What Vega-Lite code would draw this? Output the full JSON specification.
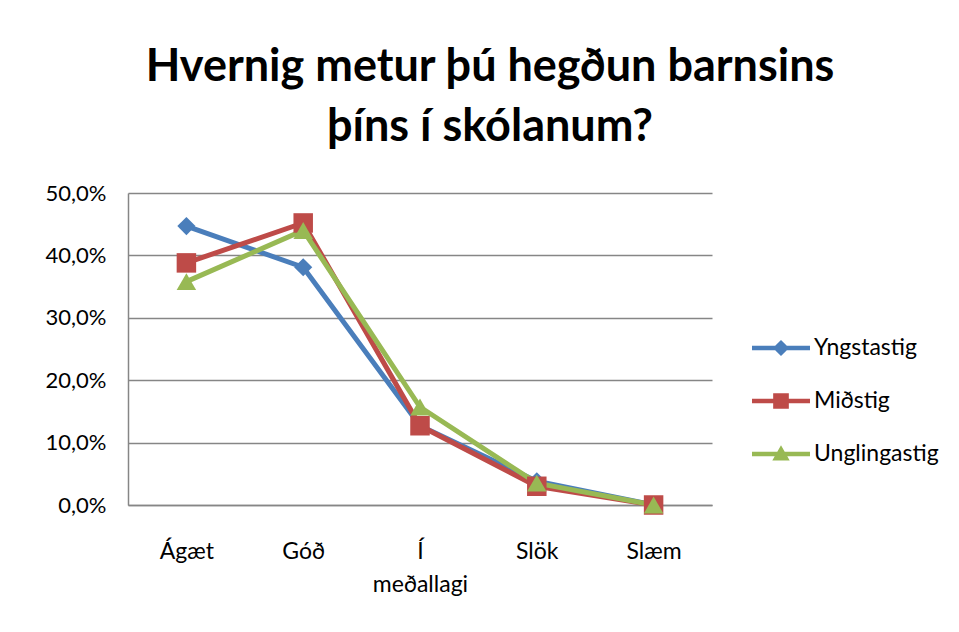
{
  "$schema": "https://vega.github.io/schema/vega-lite/v6.json",
  "width": 584,
  "height": 312,
  "autosize": {"type": "none"},
  "padding": {"left": 128, "top": 193, "right": 247, "bottom": 127},
  "background": "white",
  "title": {
    "text": ["Hvernig metur þú hegðun barnsins", "þíns í skólanum?"],
    "font": "Lato",
    "fontSize": 45,
    "fontWeight": "bold",
    "color": "#000000",
    "anchor": "middle",
    "frame": "group",
    "dx": 70,
    "lineHeight": 60,
    "offset": 32
  },
  "data": {
    "values": [
      {"category": "Ágæt", "series": "Yngstastig", "value": 0.447},
      {"category": "Góð", "series": "Yngstastig", "value": 0.381},
      {"category": "Í meðallagi", "series": "Yngstastig", "value": 0.127},
      {"category": "Slök", "series": "Yngstastig", "value": 0.038},
      {"category": "Slæm", "series": "Yngstastig", "value": 0.0},
      {"category": "Ágæt", "series": "Miðstig", "value": 0.388},
      {"category": "Góð", "series": "Miðstig", "value": 0.452},
      {"category": "Í meðallagi", "series": "Miðstig", "value": 0.127},
      {"category": "Slök", "series": "Miðstig", "value": 0.030},
      {"category": "Slæm", "series": "Miðstig", "value": 0.0},
      {"category": "Ágæt", "series": "Unglingastig", "value": 0.358},
      {"category": "Góð", "series": "Unglingastig", "value": 0.440},
      {"category": "Í meðallagi", "series": "Unglingastig", "value": 0.157},
      {"category": "Slök", "series": "Unglingastig", "value": 0.035},
      {"category": "Slæm", "series": "Unglingastig", "value": 0.0}
    ]
  },
  "encoding": {
    "x": {
      "field": "category",
      "type": "nominal",
      "sort": ["Ágæt", "Góð", "Í meðallagi", "Slök", "Slæm"],
      "scale": {"type": "point", "padding": 0.5},
      "axis": {
        "title": null,
        "labelAngle": 0,
        "ticks": false,
        "labelPadding": 35,
        "labelFont": "Lato",
        "labelFontSize": 23,
        "labelColor": "#000000",
        "labelLineHeight": 33,
        "labelBaseline": "top",
        "labelExpr": "datum.label === 'Í meðallagi' ? ['Í', 'meðallagi'] : datum.label",
        "domainColor": "#868686",
        "domainWidth": 1.5,
        "grid": false
      }
    },
    "y": {
      "field": "value",
      "type": "quantitative",
      "scale": {"domain": [0, 0.5], "nice": false},
      "axis": {
        "title": null,
        "values": [0, 0.1, 0.2, 0.3, 0.4, 0.5],
        "labelExpr": "replace(format(datum.value, '.1%'), '.', ',')",
        "ticks": false,
        "labelPadding": 22,
        "labelFont": "Lato",
        "labelFontSize": 22,
        "labelColor": "#000000",
        "domainColor": "#868686",
        "domainWidth": 1.5,
        "gridColor": "#868686",
        "gridWidth": 1.5,
        "gridOpacity": 1
      }
    },
    "color": {
      "field": "series",
      "type": "nominal",
      "sort": ["Yngstastig", "Miðstig", "Unglingastig"],
      "scale": {"domain": ["Yngstastig", "Miðstig", "Unglingastig"], "range": ["#4A7EBB", "#BE4B48", "#98B954"]},
      "legend": {
        "orient": "none",
        "legendX": 624,
        "legendY": 126,
        "title": null,
        "symbolSize": 3364,
        "symbolType": "square",
        "labelFont": "Lato",
        "labelFontSize": 23,
        "labelColor": "#000000",
        "labelOffset": 4,
        "rowPadding": 12,
        "encode": {
          "symbols": {
            "update": {
              "shape": {"signal": "datum.value === 'Yngstastig' ? 'M-1,-0.075H1V0.075H-1Z M0,-0.28L0.28,0L0,0.28L-0.28,0Z' : datum.value === 'Miðstig' ? 'M-1,-0.075H1V0.075H-1Z M-0.27,-0.27H0.27V0.27H-0.27Z' : 'M-1,-0.075H1V0.075H-1Z M0,-0.3L0.3,0.22H-0.3Z'"},
              "fill": {"signal": "datum.value === 'Yngstastig' ? '#4A7EBB' : datum.value === 'Miðstig' ? '#BE4B48' : '#98B954'"},
              "strokeWidth": {"value": 0},
              "opacity": {"value": 1}
            }
          }
        }
      }
    }
  },
  "layer": [
    {"mark": {"type": "line", "strokeWidth": 5}},
    {
      "transform": [{"filter": "datum.series === 'Yngstastig'"}],
      "mark": {"type": "point", "filled": true, "opacity": 1, "size": 330, "shape": "diamond"}
    },
    {
      "transform": [{"filter": "datum.series === 'Miðstig'"}],
      "mark": {"type": "point", "filled": true, "opacity": 1, "size": 380, "shape": "square"}
    },
    {
      "transform": [{"filter": "datum.series === 'Unglingastig'"}],
      "mark": {"type": "point", "filled": true, "opacity": 1, "size": 380, "shape": "triangle-up"}
    }
  ],
  "config": {
    "view": {"stroke": null}
  }
}
